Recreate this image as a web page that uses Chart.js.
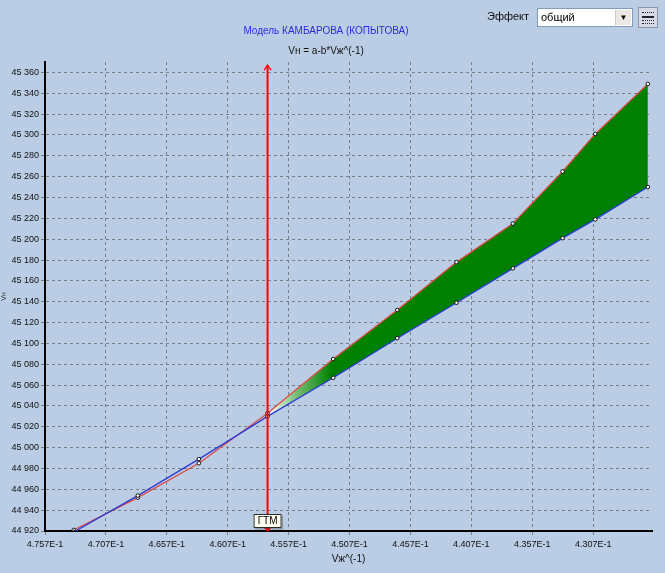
<!DOCTYPE html>
<html>
<head>
<meta charset="utf-8">
<script src="https://cdn.jsdelivr.net/npm/chart.js@4/dist/chart.umd.min.js"></script>
<style>
	body { margin: 0; background: #bacde4; font-family: 'Liberation Sans', Arial, sans-serif; }
	#wrap { position: relative; width: 665px; height: 573px; overflow: hidden; }
	#chart { position: absolute; left: 0; top: 0; }
	.effect_label { position: absolute; left: 487px; top: 10px; font-size: 11px; color: #111; }
	.effect_box { position: absolute; left: 537px; top: 8px; width: 94px; height: 17px; background: #fff; border: 1px solid #7f9db9; font-size: 11px; color: #000; }
	.effect_box span { position: absolute; left: 3px; top: 2px; }
	.effect_arrow { position: absolute; right: 1px; top: 1px; width: 15px; height: 15px; background: #ece9e4; border-left: 1px solid #c8c8c8; font-size: 8px; line-height: 15px; text-align: center; color: #000; }
	.effect_btn { position: absolute; left: 638px; top: 7px; width: 18px; height: 19px; background: #d6dbe6; border: 1px solid #8a94a6; }
	.effect_btn i { position: absolute; left: 3px; width: 12px; height: 0; border-top: 1px dotted #223; }
</style>
</head>
<body>
<div id="wrap">
	<canvas id="chart" width="665" height="573"></canvas>
	<div class="effect_label">Эффект</div>
	<div class="effect_box"><span>общий</span><div class="effect_arrow">&#9660;</div></div>
	<div class="effect_btn"><i style="top:4px"></i><i style="top:8px; border-top:2px solid #223"></i><i style="top:12px"></i><i style="top:15px"></i></div>
</div>
<script>
	// values
	var xValues = [0.47334, 0.46808, 0.46307, 0.45743, 0.45204, 0.44678, 0.44192, 0.43729, 0.43321, 0.43053, 0.42621];
	var redValues = [44921, 44952, 44985, 45033, 45085, 45132, 45178, 45215, 45265, 45301, 45349];
	var blueValues = [44919, 44954, 44989, 45030, 45067, 45105, 45139, 45172, 45201, 45219, 45250];
	var xTicks = [0.4757, 0.4707, 0.4657, 0.4607, 0.4557, 0.4507, 0.4457, 0.4407, 0.4357, 0.4307];
	var yTicks = [44920, 44940, 44960, 44980, 45000, 45020, 45040, 45060, 45080, 45100, 45120, 45140, 45160, 45180, 45200, 45220, 45240, 45260, 45280, 45300, 45320, 45340, 45360];
	var gtmX = 0.45743;
	var gtmRange = [44920, 45367];
	var greenFromX = 0.4522;

	var tickFont = {family: "'Liberation Sans', Arial, sans-serif", size: 9};

	function _map(arr, fn) {
		var out = [];
		for(var i = 0; i < arr.length; i++) {
			out.push(fn(arr[i], i));
		}
		return out;
	}
	var toPoints = function(ys) {
		return _map(xValues, function(x, i) {
			return {x: x, y: ys[i]};
		});
	};

	var fillColor = function(context) {
		var chart = context.chart;
		var area = chart.chartArea;
		if(!area || !chart.scales.x) {
			return 'rgba(0,128,0,0)';
		}
		var left = area.left;
		var width = area.right - area.left;
		var x0 = chart.scales.x.getPixelForValue(gtmX);
		var x1 = chart.scales.x.getPixelForValue(greenFromX);
		var grad = chart.ctx.createLinearGradient(left, 0, area.right, 0);
		var p0 = Math.max(0, (x0 - left) / width);
		var p1 = Math.min(1, (x1 - left) / width);

		grad.addColorStop(0, 'rgba(255,255,255,0)');
		grad.addColorStop(Math.max(0, p0 - 0.001), 'rgba(255,255,255,0)');
		grad.addColorStop(p0, 'rgba(255,255,255,0.95)');
		grad.addColorStop(p0 + (p1 - p0) * 0.45, 'rgba(120,190,120,1)');
		grad.addColorStop(p1, '#008000');
		grad.addColorStop(1, '#008000');
		return grad;
	};

	// arrows and the "ГТМ" tag on the red vertical line
	var gtmPlugin = {
		id: 'gtm',
		afterDatasetsDraw: function(chart) {
			var ctx = chart.ctx;
			var x = chart.scales.x.getPixelForValue(gtmX);
			var top = chart.scales.y.getPixelForValue(gtmRange[1]);
			var bottom = chart.scales.y.getPixelForValue(gtmRange[0]);

			ctx.save();
			ctx.strokeStyle = '#ff0000';
			ctx.lineWidth = 1.2;
			ctx.beginPath();
			ctx.moveTo(x - 3.5, top + 5);
			ctx.lineTo(x, top);
			ctx.lineTo(x + 3.5, top + 5);
			ctx.moveTo(x - 3.5, bottom - 4);
			ctx.lineTo(x, bottom);
			ctx.lineTo(x + 3.5, bottom - 4);
			ctx.stroke();

			var bw = 28, bh = 14, by = bottom - 17;
			ctx.fillStyle = 'rgba(0,0,0,0.25)';
			ctx.fillRect(x - bw / 2 + 1.5, by + 1.5, bw, bh);
			ctx.fillStyle = '#fffff2';
			ctx.fillRect(x - bw / 2, by, bw, bh);
			ctx.strokeStyle = '#2a2a2a';
			ctx.lineWidth = 1;
			ctx.strokeRect(x - bw / 2 + 0.5, by + 0.5, bw - 1, bh - 1);
			ctx.fillStyle = '#000';
			ctx.font = "10px 'Liberation Sans', Arial, sans-serif";
			ctx.textAlign = 'center';
			ctx.textBaseline = 'middle';
			ctx.fillText('ГТМ', x, by + bh / 2 + 0.5);
			ctx.restore();
		}
	};

	var chart = new Chart(document.getElementById('chart'), {
		type: 'line',
		data: {
			datasets: [{
				label: 'ГТМ',
				data: [{x: gtmX, y: gtmRange[0]}, {x: gtmX, y: gtmRange[1]}],
				borderColor: '#ff0000',
				borderWidth: 2,
				pointRadius: 0,
				fill: false
			}, {
				label: 'blue',
				data: toPoints(blueValues),
				borderColor: '#2b3bd6',
				borderWidth: 1.3,
				pointRadius: 1.8,
				pointBorderWidth: 1,
				pointBackgroundColor: '#ffffff',
				pointBorderColor: '#111111',
				fill: false
			}, {
				label: 'red',
				data: toPoints(redValues),
				borderColor: '#dd4a44',
				borderWidth: 1.3,
				pointRadius: 1.8,
				pointBorderWidth: 1,
				pointBackgroundColor: '#ffffff',
				pointBorderColor: '#111111',
				backgroundColor: fillColor,
				fill: 1
			}]
		},
		options: {
			responsive: false,
			animation: false,
			layout: {
				padding: {left: 0, right: 13, top: 0, bottom: 5}
			},
			plugins: {
				legend: {display: false},
				tooltip: {enabled: false},
				title: {
					display: true,
					text: 'Модель КАМБАРОВА (КОПЫТОВА)',
					color: '#2b2be6',
					font: {family: "'Liberation Sans', Arial, sans-serif", size: 10, weight: 'normal'},
					padding: {top: 25, bottom: 0}
				},
				subtitle: {
					display: true,
					text: 'Vн = a-b*Vж^(-1)',
					color: '#111111',
					font: {family: "'Liberation Sans', Arial, sans-serif", size: 10},
					padding: {top: 8, bottom: 5}
				}
			},
			scales: {
				x: {
					type: 'linear',
					reverse: true,
					min: 0.42587,
					max: 0.4757,
					afterBuildTicks: function(scale) {
						scale.ticks = _map(xTicks, function(v) { return {value: v}; });
					},
					afterFit: function(scale) {
						scale.height = 37;
					},
					grid: {color: '#7a7f88', tickLength: 4},
					border: {display: true, color: '#000000', width: 2, dash: [3, 3]},
					ticks: {
						color: '#111111',
						font: tickFont,
						padding: 4,
						maxRotation: 0,
						callback: function(v) {
							return (v * 10).toFixed(3) + 'E-1';
						}
					},
					title: {
						display: true,
						text: 'Vж^(-1)',
						color: '#111111',
						font: {family: "'Liberation Sans', Arial, sans-serif", size: 10},
						padding: {top: 0, bottom: 3}
					}
				},
				y: {
					type: 'linear',
					min: 44920,
					max: 45370,
					afterBuildTicks: function(scale) {
						scale.ticks = _map(yTicks, function(v) { return {value: v}; });
					},
					afterFit: function(scale) {
						scale.width = 45;
					},
					grid: {color: '#7a7f88', tickLength: 4},
					border: {display: true, color: '#000000', width: 2, dash: [3, 3]},
					ticks: {
						color: '#111111',
						font: tickFont,
						padding: 2,
						callback: function(v) {
							return String(v).replace(/\B(?=(\d{3})+(?!\d))/g, ' ');
						}
					},
					title: {
						display: true,
						text: 'Vн',
						color: '#333333',
						font: {family: "'Liberation Sans', Arial, sans-serif", size: 7},
						padding: 0
					}
				}
			}
		},
		plugins: [gtmPlugin]
	});
</script>
</body>
</html>
